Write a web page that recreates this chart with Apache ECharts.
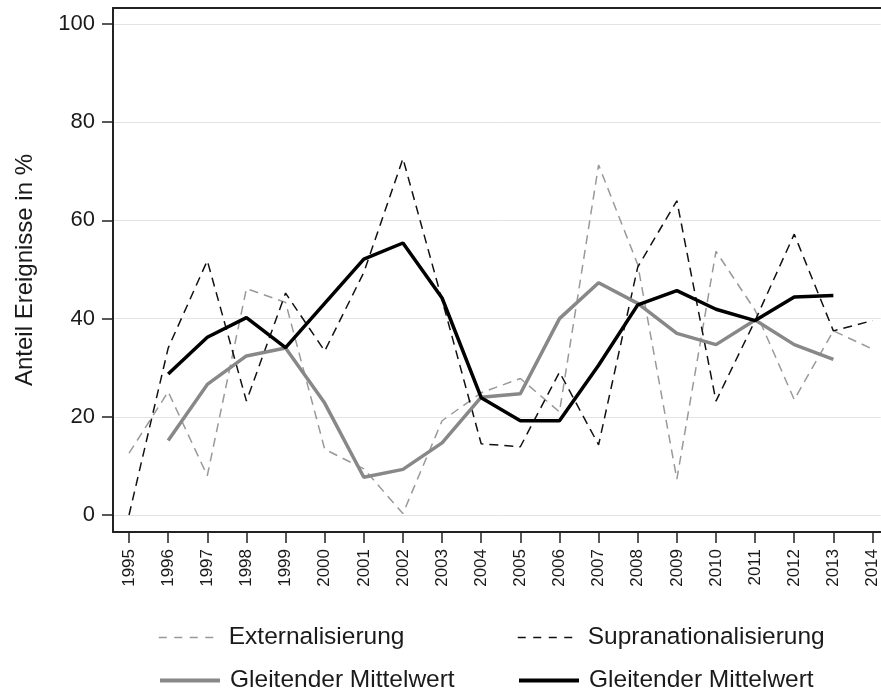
<!doctype html>
<html>
<head>
  <meta charset="UTF-8" />
  <title>Anteil Ereignisse</title>
  <script src="https://cdn.jsdelivr.net/npm/echarts@6.0.0/dist/echarts.min.js"></script>
  <style>
    html, body { margin: 0; padding: 0; background: #ffffff; }
    #chart { width: 881px; height: 694px; }
  </style>
</head>
<body>
  <div id="chart"></div>
  <script>
    const years = [1995, 1996, 1997, 1998, 1999, 2000, 2001, 2002, 2003, 2004,
                   2005, 2006, 2007, 2008, 2009, 2010, 2011, 2012, 2013, 2014];
    const yTicks = [0, 20, 40, 60, 80, 100];

    const externalisierung = [12.6, 25.1, 8.0, 46.1, 43.3, 13.4, 9.4, 0.3, 19.2, 24.9,
                              27.8, 21.0, 71.3, 51.0, 7.3, 53.7, 41.7, 23.5, 37.5, 33.8];
    const supranationalisierung = [0, 34.0, 51.8, 23.2, 45.2, 33.4, 49.4, 72.6, 43.8, 14.5,
                                   13.9, 29.1, 14.3, 50.5, 64.0, 23.2, 39.6, 57.2, 37.5, 39.6];
    // gleitende Mittelwerte, 1996 bis 2013
    const mittelExt = [null, 15.2, 26.6, 32.4, 34.0, 22.8, 7.7, 9.3, 14.7, 24.0,
                       24.7, 40.0, 47.3, 43.1, 37.0, 34.7, 39.7, 34.7, 31.7, null];
    const mittelSup = [null, 28.7, 36.2, 40.2, 34.1, 43.1, 52.1, 55.4, 44.2, 23.9,
                       19.2, 19.2, 30.5, 42.8, 45.7, 41.9, 39.6, 44.4, 44.7, null];

    const font = "Liberation Sans";
    const pairs = (vals) => years.map((y, i) => [y, vals[i]]);

    const chart = echarts.init(document.getElementById("chart"));

    const legendAt = (name, left, top, lineStyle) => ({
      data: [name],
      left: left,
      top: top,
      itemWidth: 60,
      itemHeight: 14,
      selectedMode: false,
      itemStyle: { opacity: 0 },
      lineStyle: lineStyle,
      textStyle: {
        fontFamily: font,
        fontSize: 24.5,
        color: "#1a1a1a",
        padding: [0, 0, 0, 5],
      },
      formatter: (n) => n.replace(/ \(.\)$/, ""),
    });

    const option = {
      animation: false,
      backgroundColor: "#ffffff",
      grid: { left: 113, right: 0, top: 8, bottom: 162 },
      xAxis: [
        {
          type: "value",
          min: 1994.59,
          max: 2014.21,
          axisLine: { show: true, onZero: false, lineStyle: { color: "#222", width: 2 } },
          axisTick: { show: true, length: 11, customValues: years, lineStyle: { color: "#222", width: 1.5 } },
          axisLabel: {
            customValues: years,
            rotate: 90,
            margin: 17,
            fontFamily: font,
            fontSize: 17,
            color: "#1a1a1a",
            formatter: (v) => String(v),
          },
          splitLine: { show: false },
        },
        {
          type: "value",
          position: "top",
          min: 1994.59,
          max: 2014.21,
          axisLine: { show: true, onZero: false, lineStyle: { color: "#222", width: 2 } },
          axisTick: { show: false },
          axisLabel: { show: false },
          splitLine: { show: false },
        },
      ],
      yAxis: {
        type: "value",
        min: -3.46,
        max: 103.26,
        name: "Anteil Ereignisse in %",
        nameLocation: "middle",
        nameGap: 76,
        nameTextStyle: { fontFamily: font, fontSize: 24, color: "#1a1a1a" },
        axisLine: { show: true, onZero: false, lineStyle: { color: "#222", width: 2 } },
        axisTick: { show: true, length: 11, customValues: yTicks, lineStyle: { color: "#222", width: 1.5 } },
        axisLabel: {
          customValues: yTicks,
          margin: 18,
          fontFamily: font,
          fontSize: 22,
          color: "#1a1a1a",
        },
        splitLine: { show: true, lineStyle: { color: "#e3e3e3", width: 1 } },
      },
      legend: [
        legendAt("Externalisierung", 153, 620, { width: 1.5, type: [8, 7.5] }),
        legendAt("Supranationalisierung", 512, 620, { width: 1.5, type: [8, 7.5] }),
        legendAt("Gleitender Mittelwert (E)", 153, 663, { width: 4 }),
        legendAt("Gleitender Mittelwert (S)", 512, 663, { width: 4 }),
      ],
      series: [
        {
          name: "Externalisierung",
          type: "line",
          data: pairs(externalisierung),
          symbol: "none",
          color: "#999",
          lineStyle: { color: "#999", width: 1.5, type: [9, 6] },
          z: 2,
        },
        {
          name: "Supranationalisierung",
          type: "line",
          data: pairs(supranationalisierung),
          symbol: "none",
          color: "#111",
          lineStyle: { color: "#111", width: 1.5, type: [9, 6] },
          z: 3,
        },
        {
          name: "Gleitender Mittelwert (E)",
          type: "line",
          data: pairs(mittelExt),
          symbol: "none",
          color: "#888",
          lineStyle: { color: "#888", width: 3.5 },
          z: 4,
        },
        {
          name: "Gleitender Mittelwert (S)",
          type: "line",
          data: pairs(mittelSup),
          symbol: "none",
          color: "#000",
          lineStyle: { color: "#000", width: 3.5 },
          z: 5,
        },
      ],
    };

    chart.setOption(option);
  </script>
</body>
</html>
